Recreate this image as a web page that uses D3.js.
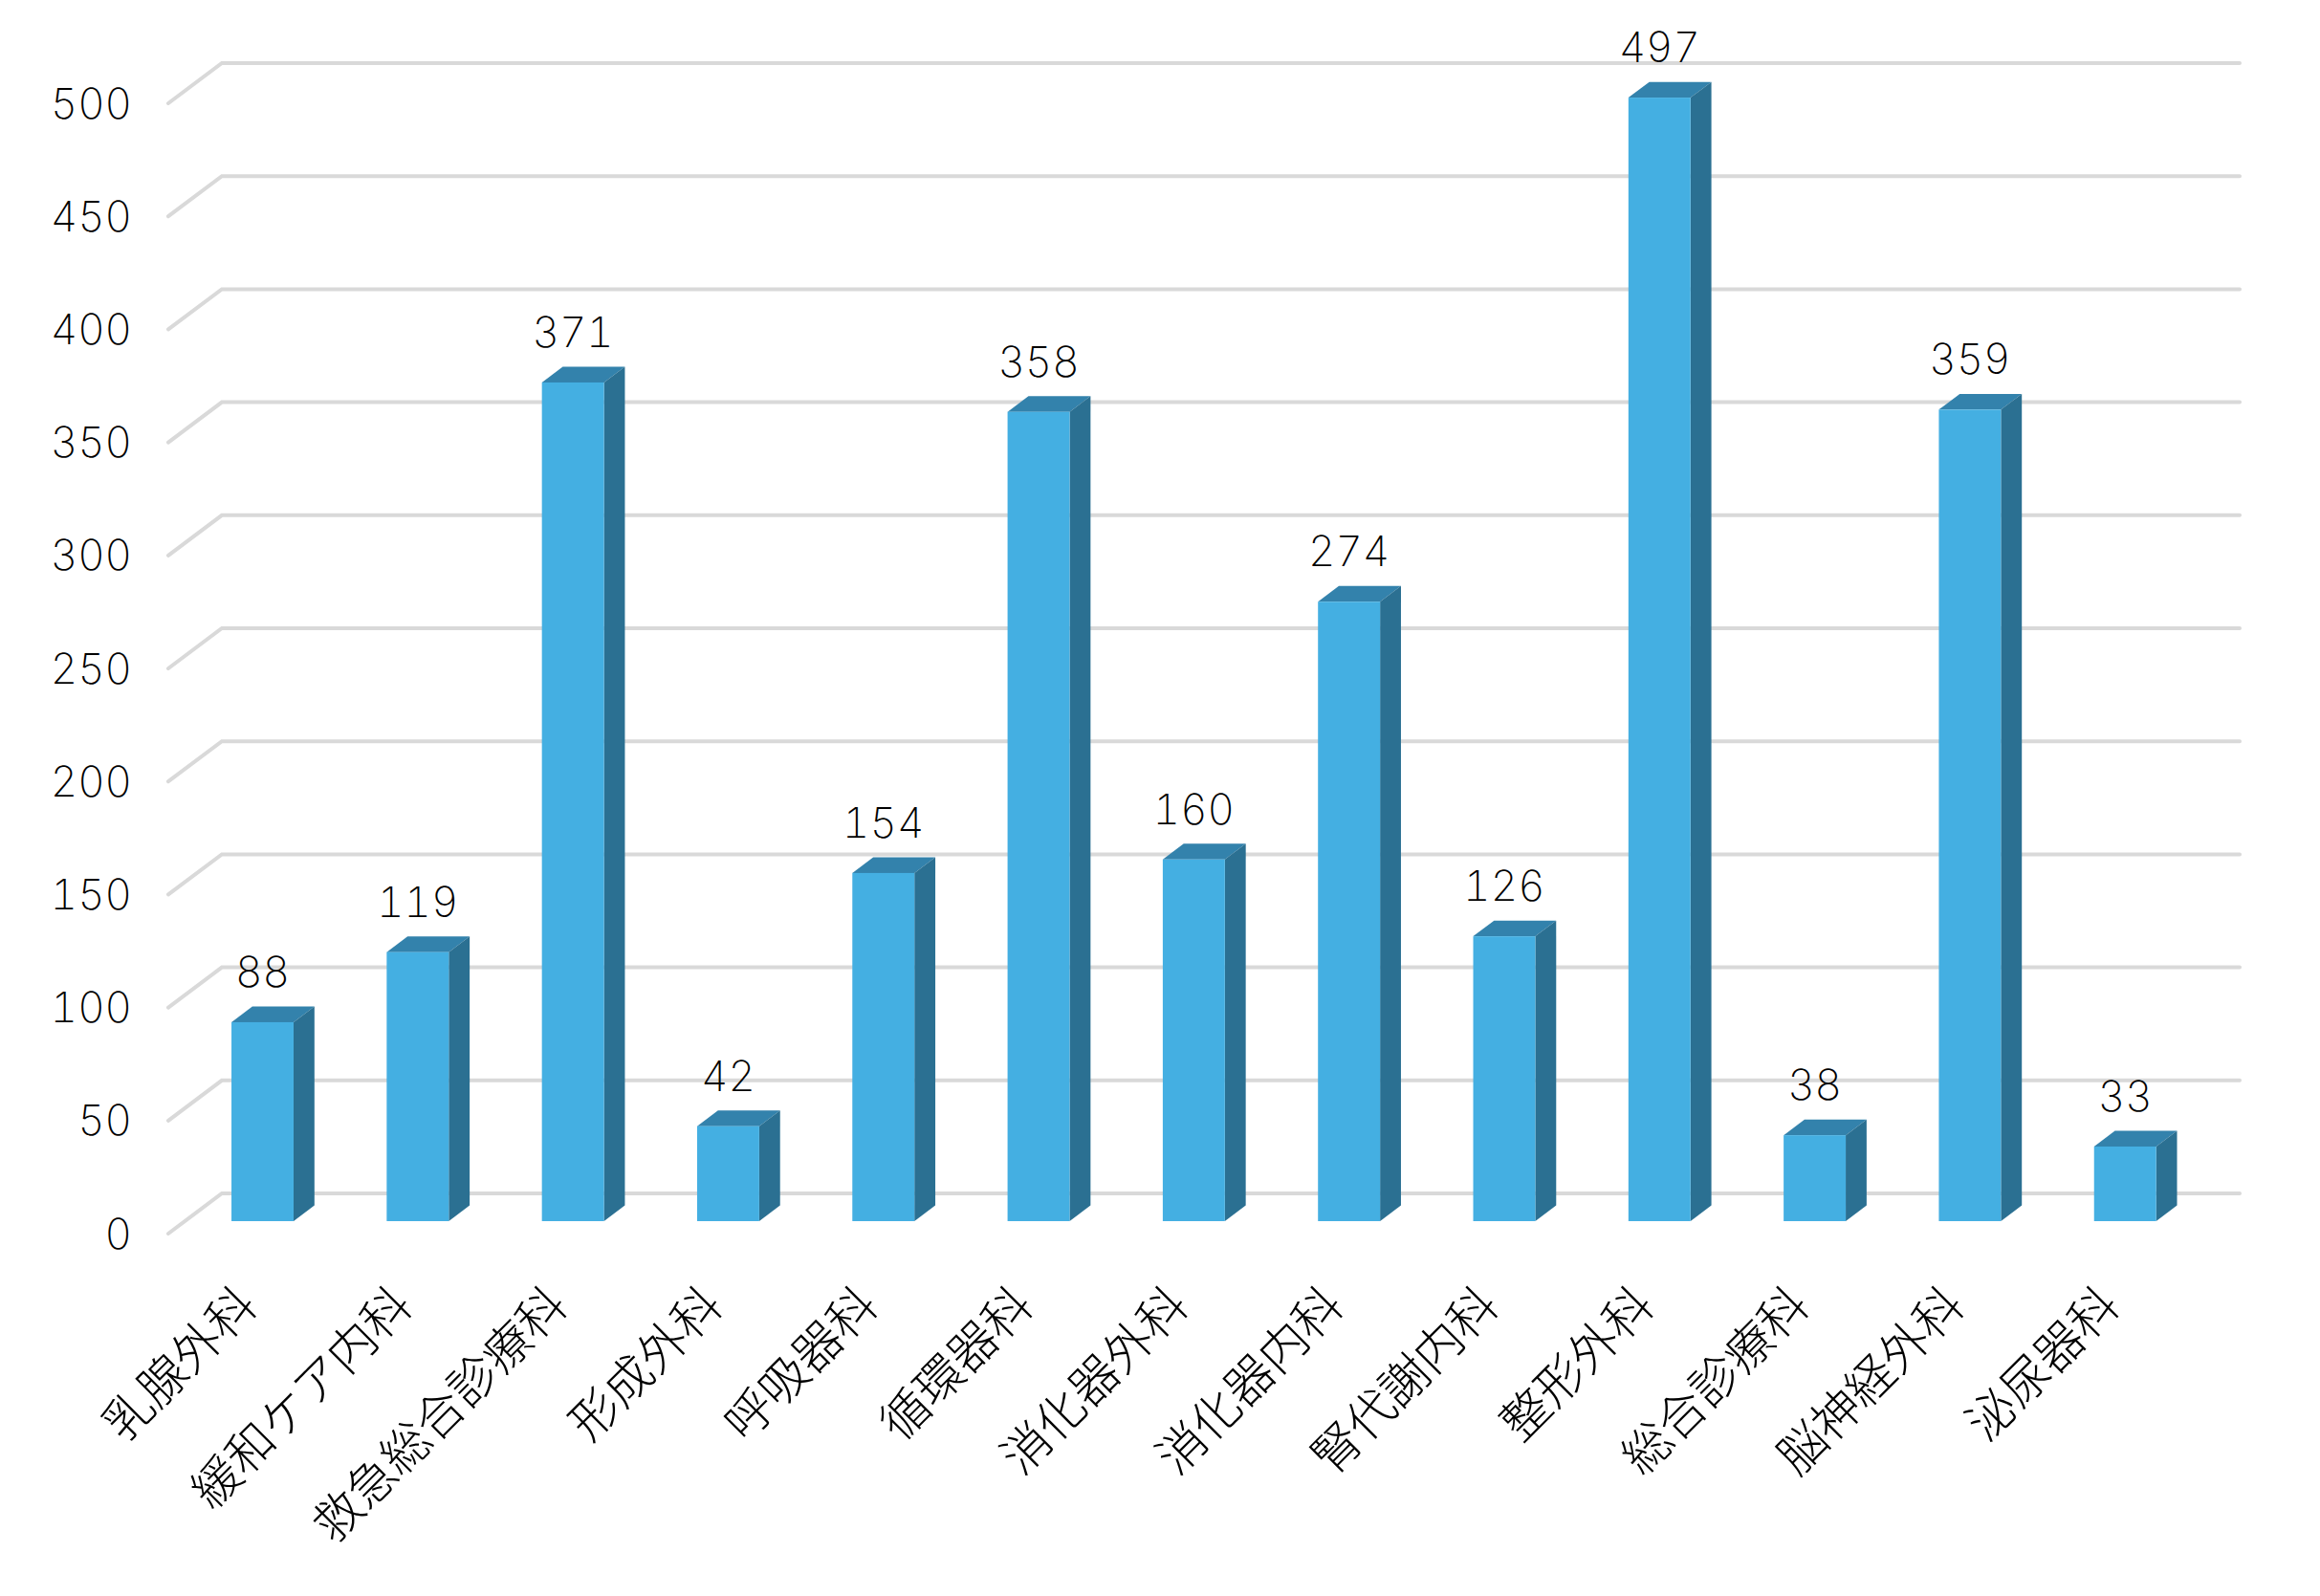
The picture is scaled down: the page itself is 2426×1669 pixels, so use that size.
<!DOCTYPE html>
<html>
<head>
<meta charset="utf-8">
<script src="https://cdn.jsdelivr.net/npm/d3@7"></script>
<style>
  html, body { margin: 0; padding: 0; background: #fff; }
  text { fill: #000; font-family: "Noto Sans CJK JP", "Noto Sans", sans-serif; font-weight: 300; }
  .num { font-family: "Inter", "Noto Sans", sans-serif; font-weight: 200; font-size: 44px; letter-spacing: 0; font-variant-numeric: tabular-nums; }
  .cat { font-size: 50px; }
</style>
</head>
<body>
<div id="chart"></div>
<script>
const departments = ['乳腺外科', '緩和ケア内科', '救急総合診療科', '形成外科', '呼吸器科', '循環器科', '消化器外科', '消化器内科', '腎代謝内科', '整形外科', '総合診療科', '脳神経外科', '泌尿器科'];
const patients = [88, 119, 371, 42, 154, 358, 160, 274, 126, 497, 38, 359, 33];
const yTicks = [0, 50, 100, 150, 200, 250, 300, 350, 400, 450, 500];

const width = 2426;
const height = 1669;
const depth = { x: 56, y: -42 }; // oblique offset of the back wall
const barNear = 0.31;
const barFar = 0.7;

const svg = d3.select('#chart').append('svg').attr('width', width).attr('height', height);

const x = d3.scaleBand().domain(departments).range([176, 2286]).paddingInner(0.6).paddingOuter(0.3);
const y = d3.scaleLinear().domain([0, 500]).range([1290, 108]);

// grid: diagonal on the side wall, then along the back wall
svg.append('g')
  .selectAll('path')
  .data(yTicks)
  .join('path')
  .attr('fill', 'none')
  .attr('stroke', '#d9d9d9')
  .attr('stroke-width', 4)
  .attr('stroke-linecap', 'round')
  .attr('d', d => d3.line()([
    [x.range()[0], y(d)],
    [x.range()[0] + depth.x, y(d) + depth.y],
    [x.range()[1] + depth.x, y(d) + depth.y],
  ]));

const yAxis = svg.append('g')
  .attr('transform', `translate(${x.range()[0]},1)`)
  .call(d3.axisLeft(y).tickValues(yTicks).tickSize(0).tickPadding(38));
yAxis.select('.domain').remove();
yAxis.selectAll('text').attr('class', 'num').attr('fill', '#000');

const bars = svg.append('g')
  .selectAll('g')
  .data(departments)
  .join('g');

const px = (name, d) => x(name) + depth.x * d;
const py = (v, d) => y(v) + depth.y * d;

// top
bars.append('path')
  .attr('fill', '#3382ac')
  .attr('d', (name, i) => d3.line()([
    [px(name, barNear), py(patients[i], barNear)],
    [px(name, barFar), py(patients[i], barFar)],
    [px(name, barFar) + x.bandwidth(), py(patients[i], barFar)],
    [px(name, barNear) + x.bandwidth(), py(patients[i], barNear)],
  ]));

// side
bars.append('path')
  .attr('fill', '#2b7092')
  .attr('d', (name, i) => d3.line()([
    [px(name, barNear) + x.bandwidth(), py(patients[i], barNear)],
    [px(name, barFar) + x.bandwidth(), py(patients[i], barFar)],
    [px(name, barFar) + x.bandwidth(), py(0, barFar)],
    [px(name, barNear) + x.bandwidth(), py(0, barNear)],
  ]));

// front
bars.append('rect')
  .attr('fill', '#44afe2')
  .attr('x', name => px(name, barNear))
  .attr('y', (name, i) => py(patients[i], barNear))
  .attr('width', x.bandwidth())
  .attr('height', (name, i) => py(0, barNear) - py(patients[i], barNear));

// value labels
bars.append('text')
  .attr('class', 'num')
  .attr('text-anchor', 'middle')
  .attr('x', name => px(name, barNear) + x.bandwidth() / 2)
  .attr('y', (name, i) => py(patients[i], barNear) - 37)
  .text((name, i) => patients[i]);

// category labels
svg.append('g')
  .selectAll('text')
  .data(departments)
  .join('text')
  .attr('class', 'cat')
  .attr('text-anchor', 'end')
  .attr('transform', name => `translate(${px(name, barNear) + x.bandwidth() / 2 - 3},1368) rotate(-45)`)
  .text(name => name);
</script>
</body>
</html>
